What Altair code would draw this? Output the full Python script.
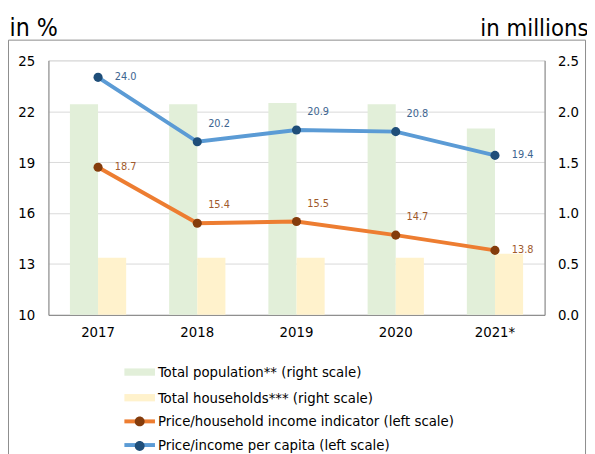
import altair as alt
import pandas as pd

# ---- data ----
years = ["2017", "2018", "2019", "2020", "2021*"]
population = [2.07, 2.07, 2.08, 2.07, 1.83]        # right scale, millions
households = [0.56, 0.56, 0.56, 0.56, 0.60]        # right scale, millions
price_household = [18.7, 15.4, 15.5, 14.7, 13.8]  # left scale, %
price_capita = [24.0, 20.2, 20.9, 20.8, 19.4]      # left scale, %

bar_names = ["Total population** (right scale)", "Total households*** (right scale)"]
line_names = ["Price/household income indicator (left scale)", "Price/income per capita (left scale)"]
point_names = [n + " " for n in line_names]  # distinct domain so the dot legend is not merged

bar_colors = ["#e2efd9", "#fff2cc"]
line_colors = ["#ed7d31", "#5b9bd5"]
point_colors = ["#843c0c", "#1f4e79"]
label_colors = ["#a05a2c", "#3d6590"]

FONT = "DejaVu Sans Condensed, DejaVu Sans"

bars_df = pd.DataFrame({
    "year": years * 2,
    "series": [bar_names[0]] * len(years) + [bar_names[1]] * len(years),
    "value": population + households,
})
lines_df = pd.DataFrame({
    "year": years * 2,
    "series": [line_names[0]] * len(years) + [line_names[1]] * len(years),
    "series_pt": [point_names[0]] * len(years) + [point_names[1]] * len(years),
    "value": price_household + price_capita,
})

x_enc = alt.X("year:N", sort=years,
              scale=alt.Scale(domain=years, paddingInner=0.433, paddingOuter=0.2165),
              axis=alt.Axis(title=None, labelAngle=0, ticks=False, labelPadding=10,
                            labelFontSize=15, labelFont=FONT, labelColor="#000000",
                            domainColor="#808080", grid=False))

frame = alt.Chart(alt.Data(values=[{"f": 1}])).mark_rect(
    fill="transparent", stroke="#8c8c8c", strokeWidth=1
).encode(x=alt.value(-40.5), x2=alt.value(544.5), y=alt.value(-20.5), y2=alt.value(400))

bar_legend = alt.Legend(
    title=None, orient="none", legendX=82.5, legendY=306,
    symbolType="M-1.55,-0.37H1.55V0.37H-1.55Z", symbolSize=400, symbolStrokeWidth=0,
    labelFont=FONT, labelFontSize=15, labelColor="#000000", labelOffset=8.5,
    labelLimit=400, rowPadding=8, padding=0)

bars = alt.Chart(bars_df).mark_bar().encode(
    x=x_enc,
    xOffset=alt.XOffset("series:N", sort=bar_names, scale=alt.Scale(domain=bar_names, paddingInner=0, paddingOuter=0)),
    y=alt.Y("value:Q", scale=alt.Scale(domain=[0, 2.5], nice=False, zero=True),
            axis=alt.Axis(orient="right", values=[0, 0.5, 1.0, 1.5, 2.0, 2.5], format=".1f",
                          ticks=False, grid=False, labelPadding=13, labelFontSize=15,
                          labelFont=FONT, labelColor="#000000", domainColor="#808080",
                          title="in millions", titleAngle=0, titleAlign="right",
                          titleBaseline="alphabetic", titleX=44, titleY=-25,
                          titleFont=FONT, titleFontSize=24, titleFontWeight="normal",
                          titleColor="#000000")),
    color=alt.Color("series:N", sort=bar_names,
                    scale=alt.Scale(domain=bar_names, range=bar_colors),
                    legend=bar_legend),
)

base = alt.Chart(lines_df).encode(
    x=x_enc,
    y=alt.Y("value:Q", scale=alt.Scale(domain=[10, 25], nice=False, zero=False),
            axis=alt.Axis(orient="left", values=[10, 13, 16, 19, 22, 25], ticks=False,
                          grid=True, gridColor="#d9d9d9", labelPadding=14, labelFontSize=15,
                          labelFont=FONT, labelColor="#000000", domainColor="#808080",
                          title="in %", titleAngle=0, titleAlign="left",
                          titleBaseline="alphabetic", titleX=-40, titleY=-25,
                          titleFont=FONT, titleFontSize=25, titleFontWeight="normal",
                          titleColor="#000000")),
)

line_legend = alt.Legend(
    title=None, orient="none", legendX=80.5, legendY=354,
    symbolType="M-1.55,0H1.55", symbolSize=400, symbolStrokeWidth=4,
    labelFont=FONT, labelFontSize=15, labelColor="#000000", labelOffset=6.5,
    labelLimit=400, rowPadding=4, padding=0)

point_legend = alt.Legend(
    title=None, orient="none", legendX=80.5, legendY=354,
    symbolType="M0.5,0A0.5,0.5,0,1,1,-0.5,0A0.5,0.5,0,1,1,0.5,0Z", symbolSize=400,
    symbolStrokeWidth=4, symbolStrokeColor="transparent",
    labelFont=FONT, labelFontSize=15, labelColor="#000000", labelOffset=6.5,
    labelExpr="''", labelLimit=400, rowPadding=-2, padding=0)

lines = base.mark_line(strokeWidth=4).encode(
    stroke=alt.Stroke("series:N", sort=line_names,
                      scale=alt.Scale(domain=line_names, range=line_colors),
                      legend=line_legend)
)
points = base.mark_point(filled=True, size=85, opacity=1).encode(
    fill=alt.Fill("series_pt:N", sort=point_names,
                  scale=alt.Scale(domain=point_names, range=point_colors),
                  legend=point_legend)
)

label_color = alt.condition(f"datum.series == '{line_names[0]}'",
                            alt.value(label_colors[0]), alt.value(label_colors[1]))
side_years = [years[0], years[-1]]
labels_side = base.mark_text(align="left", baseline="middle", dx=17, font=FONT, fontSize=11).encode(
    text=alt.Text("value:Q", format=".1f"), color=label_color
).transform_filter(alt.FieldOneOfPredicate(field="year", oneOf=side_years))
labels_raised = base.mark_text(align="left", baseline="middle", dx=11, dy=-18, font=FONT, fontSize=11).encode(
    text=alt.Text("value:Q", format=".1f"), color=label_color
).transform_filter(~alt.FieldOneOfPredicate(field="year", oneOf=side_years))

left_layer = alt.layer(lines, points, labels_side, labels_raised)

chart = alt.layer(frame, bars, left_layer).resolve_scale(y="independent").properties(
    width=503, height=258,
    autosize=alt.AutoSizeParams(type="none"),
    padding={"left": 41, "top": 50, "right": 43, "bottom": 140},
).configure_view(stroke="#808080", strokeWidth=1).configure(font=FONT)

chart.save("out.html", embed_options={"renderer": "svg", "actions": False})
